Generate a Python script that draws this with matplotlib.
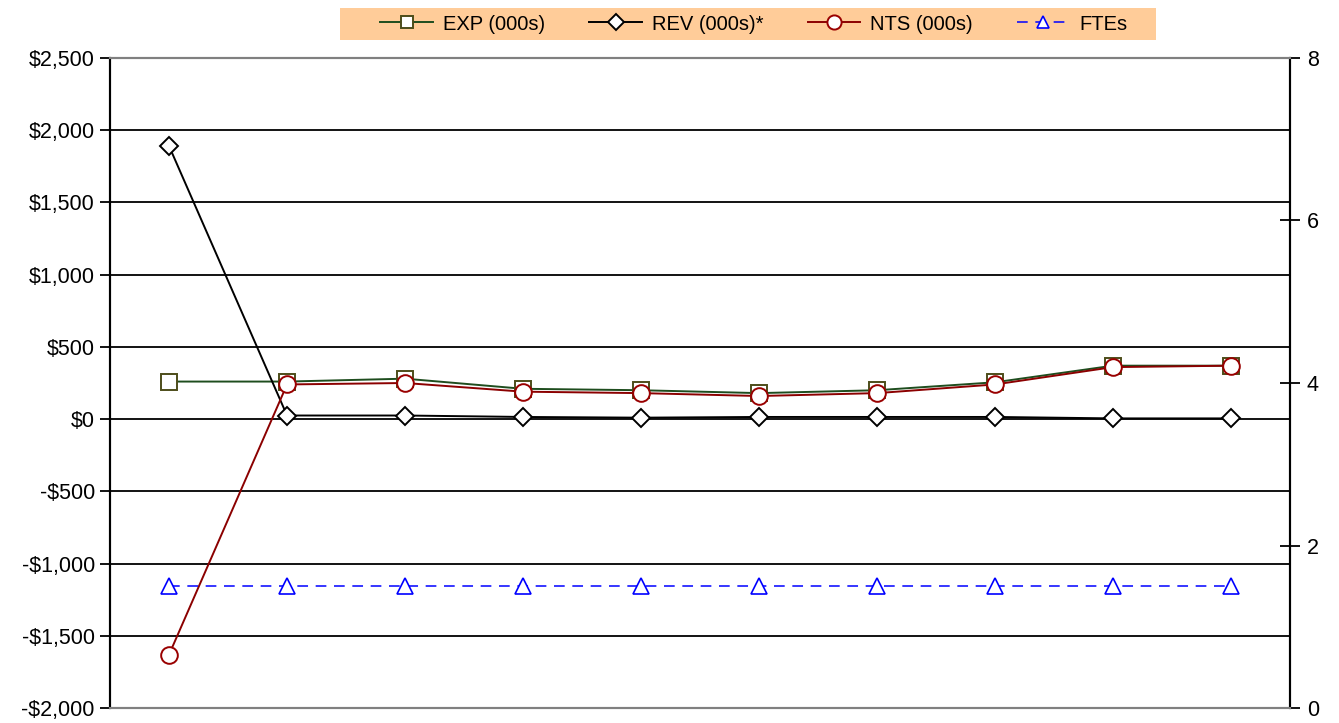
import numpy as np
import matplotlib
matplotlib.use("Agg")
import matplotlib.pyplot as plt
from matplotlib.patches import Rectangle

plt.rcParams["font.family"] = ["Liberation Sans", "DejaVu Sans"]

# ten periods, no category labels shown on the axis
periods = np.arange(10)
exp_vals = [260, 260, 280, 210, 200, 180, 200, 255, 370, 370]
rev_vals = [1890, 25, 25, 15, 10, 15, 15, 15, 5, 5]
nts_vals = [-1630, 240, 250, 190, 180, 160, 180, 240, 360, 370]
fte_vals = [1.5, 1.5, 1.5, 1.5, 1.5, 1.5, 1.5, 1.5, 1.5, 1.5]

left_ticks = [-2000, -1500, -1000, -500, 0, 500, 1000, 1500, 2000, 2500]
right_ticks = [0, 2, 4, 6, 8]


def money(v):
    return f"-${abs(v):,}" if v < 0 else f"${v:,}"


W, H = 1339, 723
fig = plt.figure(figsize=(W / 100, H / 100), dpi=100)
ax = fig.add_axes([0.0822, 0.0207, 0.8812, 0.8991])
ax2 = ax.twinx()

# gridlines
for t in left_ticks[1:-1]:
    ax.axhline(t, color="black", lw=1.3, zorder=0)

ax.plot(periods, exp_vals, color="#1e4d1e", lw=1.4, marker="s", ms=11,
        mfc="white", mec="#4d4d1a", mew=1.4, label="EXP (000s)", zorder=3)
ax.plot(periods, rev_vals, color="black", lw=1.4, marker="D", ms=9,
        mfc="white", mec="black", mew=1.4, label="REV (000s)*", zorder=4)
ax.plot(periods, nts_vals, color="#8b0000", lw=1.4, marker="o", ms=12,
        mfc="white", mec="#990000", mew=1.4, label="NTS (000s)", zorder=5)
ax2.plot(periods, fte_vals, color="#0000ff", lw=1.1, ls=(0, (7, 5)),
         marker="^", ms=11, mfc="white", mec="#0000ff", mew=1.2,
         label="FTEs")

ax.set_xlim(-0.5, 9.5)
ax.set_ylim(-2000, 2500)
ax.set_yticks(left_ticks)
ax.set_yticklabels([money(t) for t in left_ticks])
ax.set_xticks([])
ax2.set_ylim(0, 8)
ax2.set_yticks(right_ticks)

for a in (ax, ax2):
    a.spines["top"].set_color("#808080")
    a.spines["bottom"].set_color("#808080")
    for side in ("top", "bottom", "left", "right"):
        a.spines[side].set_linewidth(1.5)

ax.tick_params(axis="y", direction="out", length=7, width=1.3,
               labelsize=15.5, pad=4)
ax2.tick_params(axis="y", direction="inout", length=14, width=1.3,
                labelsize=15.5, pad=5)

# orange legend band
fig.patches.append(Rectangle((340 / W, 1 - 40 / H), 816 / W, 32 / H,
                             transform=fig.transFigure, facecolor="#FFCC99",
                             edgecolor="none", zorder=0))

h1, l1 = ax.get_legend_handles_labels()
h2, l2 = ax2.get_legend_handles_labels()
leg = fig.legend(h1 + h2, l1 + l2, loc="center", ncol=4,
                 bbox_to_anchor=(754 / W, 1 - 24 / H), fontsize=14.5,
                 frameon=False, handlelength=2.6, columnspacing=2.2,
                 handletextpad=0.5, borderpad=0, borderaxespad=0,
                 markerscale=0.85)

fig.savefig("out.png", dpi=100)
